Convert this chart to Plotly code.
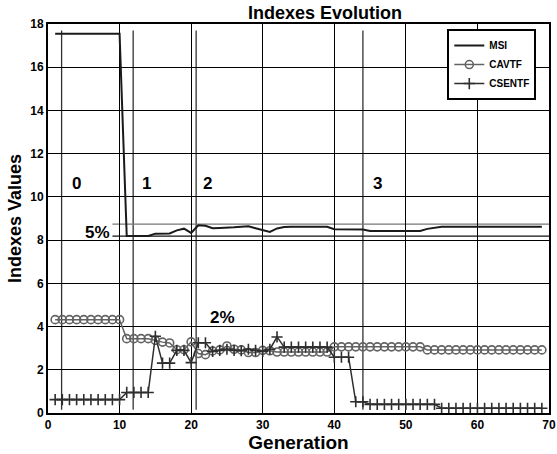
import plotly.graph_objects as go

# Generation index
generation = list(range(1, 70))

# Index series per generation
msi = [17.55, 17.55, 17.55, 17.55, 17.55, 17.55, 17.55, 17.55, 17.55, 17.55,
       8.19, 8.19, 8.19, 8.19,
       8.30, 8.30, 8.31, 8.45, 8.53, 8.33, 8.69, 8.66, 8.55, 8.56, 8.56, 8.59,
       8.62, 8.64, 8.55, 8.47, 8.38, 8.54, 8.61,
       8.62, 8.62, 8.62, 8.62, 8.62, 8.62,
       8.50, 8.49, 8.49, 8.49, 8.49,
       8.42, 8.42, 8.42, 8.42, 8.42, 8.42, 8.42, 8.42,
       8.52, 8.58,
       8.62, 8.62, 8.62, 8.62, 8.62, 8.62, 8.62, 8.62, 8.62, 8.62, 8.62, 8.62,
       8.62, 8.62, 8.62]

cavtf = [4.32, 4.32, 4.32, 4.32, 4.32, 4.32, 4.32, 4.32, 4.32, 4.32,
         3.44, 3.44, 3.44, 3.44,
         3.36, 3.28, 3.24, 2.93, 2.93, 3.29, 2.75, 2.70, 2.87, 2.92, 3.10, 2.95,
         2.92, 2.80, 2.80, 2.90, 2.88,
         2.82, 2.82, 2.82, 2.82, 2.82, 2.82, 2.82, 2.82,
         3.06, 3.06, 3.06, 3.06, 3.06, 3.06, 3.06, 3.06, 3.06, 3.06, 3.06, 3.06, 3.06,
         2.92, 2.92, 2.92, 2.92, 2.92, 2.92, 2.92, 2.92, 2.92, 2.92, 2.92, 2.92,
         2.92, 2.92, 2.92, 2.92, 2.92]

csentf = [0.62, 0.62, 0.62, 0.62, 0.62, 0.62, 0.62, 0.62, 0.62, 0.62,
          0.95, 0.95, 0.95, 0.95,
          3.55, 2.31, 2.31, 2.90, 2.90, 2.33, 3.25, 3.25,
          2.85, 2.90, 2.95, 2.90, 2.88, 2.95, 2.90, 2.85, 2.95,
          3.52,
          3.05, 3.05, 3.05, 3.05, 3.05, 3.05, 3.05,
          2.58, 2.58, 2.58,
          0.52, 0.52,
          0.40, 0.40, 0.40, 0.40, 0.40, 0.40, 0.40, 0.40, 0.40, 0.40,
          0.22, 0.22, 0.22, 0.22, 0.22, 0.22, 0.22, 0.22, 0.22, 0.22, 0.22, 0.22,
          0.22, 0.22, 0.22]

# Phase boundaries (generation) and their vertical extent
phase_x = [1.9, 11.9, 20.7, 44.0]
phase_y = [0.15, 17.7]
phase_labels = ["0", "1", "2", "3"]
phase_label_x = [4.0, 13.7, 22.3, 46.0]
phase_label_y = 10.64

# 5% band around MSI
band_y = [8.18, 8.74]
band_x = [9.0, 70.0]

x_ticks = [0, 10, 20, 30, 40, 50, 60, 70]
y_ticks = [0, 2, 4, 6, 8, 10, 12, 14, 16, 18]

FONT = "Arial, Liberation Sans, sans-serif"

fig = go.Figure()

fig.add_trace(go.Scatter(
    x=generation, y=msi, name="MSI", mode="lines",
    line=dict(color="#1a1a1a", width=2),
))
fig.add_trace(go.Scatter(
    x=generation, y=cavtf, name="CAVTF", mode="lines+markers",
    line=dict(color="#636363", width=1.5),
    marker=dict(symbol="circle-open", size=8, color="#636363",
                line=dict(width=1.6, color="#636363")),
))
fig.add_trace(go.Scatter(
    x=generation, y=csentf, name="CSENTF", mode="lines+markers",
    line=dict(color="#2e2e2e", width=1.5),
    marker=dict(symbol="cross-thin-open", size=8, color="#2e2e2e",
                line=dict(width=1.6, color="#2e2e2e")),
))

shapes = []
for px in phase_x:
    shapes.append(dict(type="line", xref="x", yref="y",
                       x0=px, x1=px, y0=phase_y[0], y1=phase_y[1],
                       line=dict(color="#333333", width=1.3), layer="below"))
shapes.append(dict(type="line", xref="x", yref="y",
                   x0=band_x[0], x1=band_x[1], y0=band_y[0], y1=band_y[0],
                   line=dict(color="#111111", width=1.3), layer="below"))
shapes.append(dict(type="line", xref="x", yref="y",
                   x0=band_x[0], x1=band_x[1], y0=band_y[1], y1=band_y[1],
                   line=dict(color="#777777", width=1.3), layer="below"))

annotations = []
for lbl, lx in zip(phase_labels, phase_label_x):
    annotations.append(dict(x=lx, y=phase_label_y, xref="x", yref="y",
                            text=lbl, showarrow=False,
                            font=dict(family=FONT, size=17, color="black", weight="bold")))
annotations.append(dict(x=6.86, y=8.33, xref="x", yref="y", text="5%",
                        showarrow=False,
                        font=dict(family=FONT, size=17, color="black", weight="bold")))
annotations.append(dict(x=24.4, y=4.44, xref="x", yref="y", text="2%",
                        showarrow=False,
                        font=dict(family=FONT, size=17, color="black", weight="bold")))

fig.update_layout(
    width=557, height=454,
    margin=dict(l=48, r=8, t=24, b=41),
    paper_bgcolor="white", plot_bgcolor="white",
    font=dict(family=FONT, color="black"),
    title=dict(text="Indexes Evolution", x=325 / 557, xref="container",
               xanchor="center", y=1 - 13 / 454, yanchor="middle",
               font=dict(family=FONT, size=18, color="black", weight="bold")),
    showlegend=True,
    legend=dict(x=0.797, y=0.987, xanchor="left", yanchor="top",
                bgcolor="white", bordercolor="black", borderwidth=2,
                font=dict(family=FONT, size=10, color="black", weight="bold"),
                itemwidth=30, tracegroupgap=0),
    shapes=shapes,
    annotations=annotations,
)

fig.update_xaxes(
    range=[0, 70], tickvals=x_ticks, ticktext=[str(v) for v in x_ticks],
    showgrid=True, gridcolor="black", gridwidth=1,
    showline=True, linecolor="black", linewidth=2, mirror=True,
    ticks="", zeroline=False, automargin=False,
    tickfont=dict(family=FONT, size=12, color="black", weight="bold"),
    title=dict(text="Generation", standoff=2,
               font=dict(family=FONT, size=19, color="black", weight="bold")),
)
fig.update_yaxes(
    range=[0, 18], tickvals=y_ticks, ticktext=[str(v) for v in y_ticks],
    showgrid=True, gridcolor="black", gridwidth=1,
    showline=True, linecolor="black", linewidth=2, mirror=True,
    ticks="", zeroline=False, automargin=False,
    tickfont=dict(family=FONT, size=12, color="black", weight="bold"),
    title=dict(text="Indexes Values", standoff=4,
               font=dict(family=FONT, size=18, color="black", weight="bold")),
)

fig.write_html("out.html")
